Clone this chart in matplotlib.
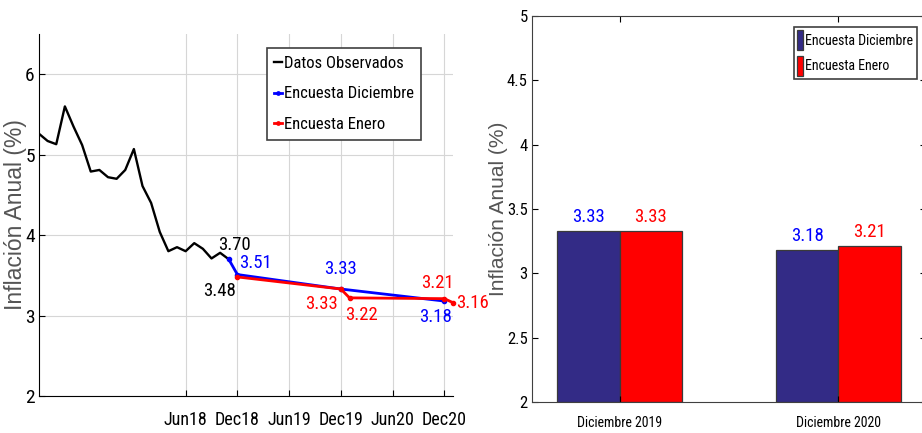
import matplotlib
matplotlib.use("Agg")
import matplotlib.pyplot as plt
from matplotlib import font_manager
import pandas as pd

# observed annual inflation, monthly from Jan 2017 to Nov 2018
obs_start = "2017-01"
obs_values = [5.26, 5.17, 5.13, 5.60, 5.35, 5.12, 4.79, 4.81, 4.72, 4.70,
              4.81, 5.07, 4.61, 4.40, 4.04, 3.80, 3.85, 3.80, 3.90, 3.83,
              3.71, 3.78, 3.70]

# survey paths
dic_dates = ["2018-11", "2018-12", "2019-12", "2020-12"]
dic_values = [3.70, 3.51, 3.33, 3.18]
ene_dates = ["2018-12", "2019-12", "2020-01", "2020-12", "2021-01"]
ene_values = [3.48, 3.33, 3.22, 3.21, 3.16]

tick_dates = ["2018-06", "2018-12", "2019-06", "2019-12", "2020-06", "2020-12"]
tick_labels = ["Jun18", "Dec18", "Jun19", "Dec19", "Jun20", "Dec20"]

# bar chart
bar_categories = ["Diciembre 2019", "Diciembre 2020"]
bar_dic = [3.33, 3.18]
bar_ene = [3.33, 3.21]


def pick_font(names):
    for n in names:
        try:
            font_manager.findfont(n, fallback_to_default=False)
            return n
        except Exception:
            pass
    return "DejaVu Sans"


narrow = pick_font(["Liberation Sans Narrow", "Roboto Condensed", "Liberation Sans"])
regular = pick_font(["Liberation Sans", "Arial"])


def month_idx(d):
    p = pd.Period(d, freq="M")
    return (p - pd.Period(obs_start, freq="M")).n


obs_x = list(range(len(obs_values)))
dic_x = [month_idx(d) for d in dic_dates]
ene_x = [month_idx(d) for d in ene_dates]
tick_x = [month_idx(d) for d in tick_dates]

BLUE = "#0000ff"
RED = "#ff0000"
BAR_BLUE = "#332b86"

fig = plt.figure(figsize=(9.22, 4.33), dpi=100)

# ---------------- left panel ----------------
ax = fig.add_axes([39 / 922, 37 / 433, 414 / 922, 362 / 433])
ax.plot(obs_x, obs_values, color="black", linewidth=1.7, label="Datos Observados")
ax.plot(dic_x, dic_values, color=BLUE, linewidth=2, marker="o", markersize=3,
        label="Encuesta Diciembre", clip_on=False, zorder=3)
ax.plot(ene_x, ene_values, color=RED, linewidth=2, marker="o", markersize=3,
        label="Encuesta Enero", clip_on=False, zorder=4)

ax.set_xlim(0, 48)
ax.set_ylim(2, 6.5)
ax.set_xticks(tick_x)
ax.set_xticklabels(tick_labels)
ax.set_yticks([2, 3, 4, 5, 6])
ax.grid(True, color="#d6d6d6", linewidth=0.8)
ax.set_axisbelow(True)
for s in ["top", "right"]:
    ax.spines[s].set_visible(False)
ax.tick_params(direction="in", length=4, labelsize=14)
ax.tick_params(axis="x", pad=11, labelsize=13)
ax.tick_params(axis="y", pad=3)
for lab in ax.get_xticklabels() + ax.get_yticklabels():
    lab.set_fontfamily(narrow)
ax.set_ylabel("Inflación Anual (%)", fontsize=16.5, color="#555555", family=regular)
ax.yaxis.set_label_coords(-0.03, 0.5)

tf = dict(fontsize=13.5, family=narrow, clip_on=False)
# (series, index, color, dx, dy, ha, va)
labels = [
    (obs_x, obs_values, -1, "black", 4, 4, "center", "bottom"),
    (ene_x, ene_values, 0, "black", -1, -4, "right", "top"),
    (dic_x, dic_values, 1, BLUE, 1, 2, "left", "bottom"),
    (dic_x, dic_values, 2, BLUE, 0, 8, "center", "bottom"),
    (ene_x, ene_values, 1, RED, -2, -4, "right", "top"),
    (ene_x, ene_values, 2, RED, -3, -6, "left", "top"),
    (ene_x, ene_values, 3, RED, -5, 5, "center", "bottom"),
    (dic_x, dic_values, 3, BLUE, -6, -5, "center", "top"),
    (ene_x, ene_values, 4, RED, 2, 0, "left", "center"),
]
for xs, ys, i, c, dx, dy, ha, va in labels:
    ax.annotate(f"{ys[i]:.2f}", (xs[i], ys[i]), xytext=(dx, dy),
                textcoords="offset points", color=c, ha=ha, va=va,
                annotation_clip=False, **tf)

leg = ax.legend(loc="upper right", bbox_to_anchor=(0.923, 0.961),
                prop={"family": narrow, "size": 12}, handlelength=0.45,
                handletextpad=0.1, labelspacing=0.95, borderpad=0.45,
                borderaxespad=0, fancybox=False, framealpha=1,
                edgecolor="#404040", markerscale=0.8)
leg.get_frame().set_linewidth(1.2)

# ---------------- right panel ----------------
bx = fig.add_axes([532 / 922, 31 / 433, 394 / 922, 386 / 433])
pos = list(range(1, len(bar_categories) + 1))
w = 0.285
b1 = bx.bar([p - w / 2 for p in pos], [v - 2 for v in bar_dic], w, bottom=2,
            color=BAR_BLUE, edgecolor="#3a3a3a", linewidth=0.9,
            label="Encuesta Diciembre")
b2 = bx.bar([p + w / 2 for p in pos], [v - 2 for v in bar_ene], w, bottom=2,
            color=RED, edgecolor="#3a3a3a", linewidth=0.9,
            label="Encuesta Enero")
for p, v in zip(pos, bar_dic):
    bx.text(p - w / 2, v + 0.04, f"{v:.2f}", color=BLUE, ha="center",
            va="bottom", fontsize=13.5, family=narrow)
for p, v in zip(pos, bar_ene):
    bx.text(p + w / 2, v + 0.04, f"{v:.2f}", color=RED, ha="center",
            va="bottom", fontsize=13.5, family=narrow)

bx.set_xlim(0.6, 2.4)
bx.set_ylim(2, 5)
bx.set_xticks(pos)
bx.set_xticklabels(bar_categories)
bx.set_yticks([2, 2.5, 3, 3.5, 4, 4.5, 5])
bx.set_yticklabels(["2", "2.5", "3", "3.5", "4", "4.5", "5"])
bx.tick_params(direction="in", length=4, top=True, right=True, labelsize=12)
bx.tick_params(axis="x", pad=10, labelsize=10)
bx.tick_params(axis="y", pad=3)
for lab in bx.get_xticklabels() + bx.get_yticklabels():
    lab.set_fontfamily(narrow)
for s in bx.spines.values():
    s.set_color("#404040")
bx.set_ylabel("Inflación Anual (%)", fontsize=15, color="#555555", family=regular)
bx.yaxis.set_label_coords(-0.06, 0.5)

leg2 = bx.legend(loc="upper right", bbox_to_anchor=(0.977, 0.972),
                 prop={"family": narrow, "size": 10}, handlelength=0.45,
                 handleheight=1.8, handletextpad=0.15, labelspacing=0.45,
                 borderpad=0.25, borderaxespad=0, fancybox=False, framealpha=1,
                 edgecolor="#404040")
leg2.get_frame().set_linewidth(1.2)

fig.savefig("out.png", dpi=100)
